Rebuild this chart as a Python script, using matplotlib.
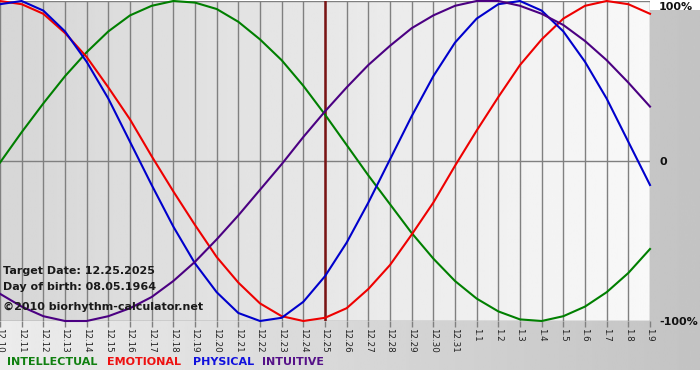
import numpy as np
import matplotlib
matplotlib.use("Agg")
import matplotlib.pyplot as plt

# day labels along the bottom (12.10 .. 1.9)
dates = ["12.10", "12.11", "12.12", "12.13", "12.14", "12.15", "12.16", "12.17",
         "12.18", "12.19", "12.20", "12.21", "12.22", "12.23", "12.24", "12.25",
         "12.26", "12.27", "12.28", "12.29", "12.30", "12.31", "1.1", "1.2",
         "1.3", "1.4", "1.5", "1.6", "1.7", "1.8", "1.9"]

# daily values (-1 .. 1)
intellectual = [-0.01, 0.18, 0.36, 0.53, 0.68, 0.81, 0.91, 0.97, 1.00, 0.99, 0.95,
                0.87, 0.76, 0.63, 0.47, 0.29, 0.10, -0.09, -0.27, -0.45, -0.61,
                -0.75, -0.86, -0.94, -0.99, -1.00, -0.97, -0.91, -0.82, -0.70, -0.55]
emotional = [1.00, 0.98, 0.92, 0.80, 0.65, 0.46, 0.26, 0.03, -0.19, -0.40, -0.60,
             -0.76, -0.89, -0.97, -1.00, -0.98, -0.92, -0.80, -0.65, -0.46, -0.26,
             -0.03, 0.19, 0.40, 0.60, 0.76, 0.89, 0.97, 1.00, 0.98, 0.92]
physical = [0.98, 1.00, 0.94, 0.81, 0.62, 0.39, 0.12, -0.15, -0.41, -0.64, -0.82,
            -0.95, -1.00, -0.98, -0.88, -0.72, -0.51, -0.26, 0.01, 0.28, 0.53,
            0.74, 0.89, 0.98, 1.00, 0.94, 0.81, 0.62, 0.39, 0.12, -0.15]
intuitive = [-0.83, -0.91, -0.97, -1.00, -1.00, -0.97, -0.92, -0.85, -0.75, -0.63,
             -0.49, -0.34, -0.18, -0.02, 0.15, 0.31, 0.46, 0.60, 0.72, 0.83, 0.91,
             0.97, 1.00, 1.00, 0.97, 0.92, 0.85, 0.75, 0.63, 0.49, 0.34]

target_index = dates.index("12.25")
info_lines = ["Target Date: 12.25.2025", "Day of birth: 08.05.1964",
              "\u00a92010 biorhythm-calculator.net"]
legend_names = ["INTELLECTUAL", "EMOTIONAL", "PHYSICAL", "INTUITIVE"]
colors = ["#007f00", "#ee0000", "#0000cc", "#4b0082"]
text_colors = ["#108010", "#ee1010", "#1010dd", "#551188"]

W, H = 700, 380
fig = plt.figure(figsize=(W / 100, H / 100), dpi=100)
fig.patch.set_facecolor("white")

# grey gradient behind everything
bg = fig.add_axes([0, 10 / H, 1, 360 / H])
bg.imshow(np.linspace(0.925, 0.765, 256)[None, :], cmap="gray", vmin=0, vmax=1,
          aspect="auto", extent=(0, 1, 0, 1))
bg.set_axis_off()

ax = fig.add_axes([0, 59 / H, 650 / W, 320 / H])
n = len(dates)
days = np.arange(n)
ax.imshow(np.linspace(0.84, 0.975, 256)[None, :], cmap="gray", vmin=0, vmax=1,
          aspect="auto", extent=(0, n - 1, -1, 1), zorder=0)

for d in days:
    ax.axvline(d, color="#808080", lw=1, zorder=1)
for v in (-1, 0, 1):
    ax.axhline(v, color="#808080", lw=1, zorder=1)
ax.axvline(target_index, color="#7a1414", lw=1.8, zorder=2)

for series, c in zip([intellectual, emotional, physical, intuitive], colors):
    ax.plot(days, series, color=c, lw=1.5, zorder=3, clip_on=False,
            solid_joinstyle="round")

ax.set_xlim(0, n - 1)
ax.set_ylim(-1, 1)
for s in ax.spines.values():
    s.set_visible(False)
ax.set_yticks([])
ax.set_xticks(days)
ax.set_xticklabels(dates, rotation=-90, fontsize=6.3, color="#222222")
ax.tick_params(axis="x", length=4, width=1, color="#808080", pad=1)

for line, y in zip(info_lines, [271.5, 287.5, 306.5]):
    fig.text(3 / W, 1 - y / H, line, fontsize=8, fontweight="bold",
             color="#1a1a1a", va="center", ha="left", zorder=5)

for label, y in zip(["100%", "0", "-100%"], [7, 162, 322]):
    fig.text(659 / W, 1 - y / H, label, fontsize=8, fontweight="bold",
             color="#111111", va="center", ha="left")

xs = [7, 107, 193, 262]
for name, c, x in zip(legend_names, text_colors, xs):
    fig.text(x / W, 1 - 362 / H, name, fontsize=8, fontweight="bold",
             color=c, va="center", ha="left")

fig.savefig("out.png", dpi=100)
